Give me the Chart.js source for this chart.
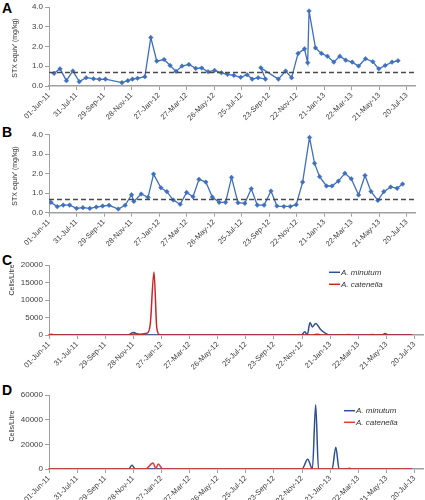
<!DOCTYPE html>
<html><head><meta charset="utf-8">
<script src="https://cdn.jsdelivr.net/npm/chart.js@4.4.0/dist/chart.umd.min.js"></script>
<style>
html,body{margin:0;padding:0;background:#fff;width:425px;height:500px;overflow:hidden;font-family:"Liberation Sans",Arial,sans-serif}
canvas{position:absolute;left:0}
.lt{position:absolute;font-weight:bold;font-size:14px;line-height:14px;color:#000}
.yt{position:absolute;font-size:7px;line-height:8px;color:#333;white-space:nowrap;transform:translate(-50%,-50%) rotate(-90deg)}
</style></head><body>
<div class="lt" style="left:2px;top:1px">A</div>
<div class="lt" style="left:2px;top:125px">B</div>
<div class="lt" style="left:2px;top:253px">C</div>
<div class="lt" style="left:2px;top:383px">D</div>
<canvas id="cA" width="425" height="122" style="top:0px"></canvas>
<canvas id="cB" width="425" height="125" style="top:122px"></canvas>
<canvas id="cC" width="425" height="123" style="top:247px"></canvas>
<canvas id="cD" width="425" height="130" style="top:370px"></canvas>
<div class="yt" style="left:15px;top:48px">STX equiv' (mg/kg)</div>
<div class="yt" style="left:15px;top:176px">STX equiv' (mg/kg)</div>
<div class="yt" style="left:12px;top:280px">Cells/Litre</div>
<div class="yt" style="left:12px;top:426px">Cells/Litre</div>
<script>
// ---- tick labels (x axis: days since 01-Jun-11) ----
const tickDays = [0,60,120,180,240,300,360,420,480,540,600,660,720,780];
const tickLabels = ['01-Jun-11','31-Jul-11','29-Sep-11','28-Nov-11','27-Jan-12','27-Mar-12','26-May-12','25-Jul-12','23-Sep-12','22-Nov-12','21-Jan-13','22-Mar-13','21-May-13','20-Jul-13'];
const limitSTX = 0.68;

// ---- Panel A: STX equiv (mg/kg) ----
const aDays = [11,24,38,52,66,81,97,110,123,159,172,182,193,209,222,235,251,264,277,290,305,320,333,347,361,376,389,403,418,432,443,456,472,462,500,516,529,543,557,564,567,581,594,607,621,634,647,661,675,690,706,719,733,748,761];
const aVals = [0.64,0.87,0.27,0.76,0.22,0.42,0.37,0.34,0.35,0.17,0.27,0.35,0.39,0.47,2.45,1.26,1.34,1.04,0.74,1.01,1.09,0.89,0.91,0.72,0.79,0.67,0.59,0.54,0.44,0.57,0.35,0.42,0.35,0.92,0.35,0.76,0.42,1.65,1.88,1.18,3.80,1.93,1.65,1.51,1.21,1.51,1.31,1.21,1.01,1.38,1.23,0.87,1.04,1.21,1.28];

// ---- Panel B: STX equiv (mg/kg) ----
const bDays = [4,18,31,45,60,74,89,103,117,131,151,166,180,185,201,216,228,244,257,271,286,300,314,327,342,356,371,385,398,412,427,441,454,469,484,497,512,526,539,553,568,579,590,605,617,631,645,659,675,689,702,717,730,745,759,771];
const bVals = [0.53,0.31,0.39,0.39,0.22,0.26,0.22,0.29,0.34,0.38,0.19,0.38,0.92,0.58,0.96,0.79,1.98,1.28,1.08,0.65,0.43,1.04,0.82,1.71,1.57,0.80,0.53,0.53,1.81,0.51,0.48,1.23,0.39,0.39,1.11,0.34,0.32,0.32,0.41,1.57,3.86,2.53,1.85,1.37,1.37,1.62,2.02,1.74,0.91,1.91,1.09,0.63,1.08,1.32,1.25,1.47];

// ---- Panel C: cells per litre ----
const cMinDays = [0,168,180,192,205,538,546,551,557,562,569,580,591,600,775];
const cMinVals = [0,0,700,100,0,0,900,0,3600,2300,3300,1500,400,0,0];
const cCatDays = [0,5,12,175,182,195,209,216,224,230,236,242,565,572,580,632,639,646,683,690,697,710,717,725,775];
const cCatVals = [0,200,0,0,300,250,500,3000,18000,2000,100,0,0,250,0,0,150,0,0,150,0,0,400,0,0];

// ---- Panel D: cells per litre ----
const dMinDays = [0,170,177,184,540,552,562,569,575,604,612,619,634,641,648,775];
const dMinVals = [0,0,3000,0,0,8000,0,52000,0,0,17700,0,0,600,0,0];
const dCatDays = [0,206,222,228,233,243,298,305,312,775];
const dCatVals = [0,0,4800,300,4000,0,0,300,0,0];

const seriesNames = ['A. minutum','A. catenella'];

const F = '"Liberation Sans", Arial, sans-serif';
const pts = (xs, ys) => xs.map((x, i) => ({x, y: ys[i]}));

const inlineLegend = {
  id: 'inlineLegend',
  afterDraw(chart, args, opts) {
    if (!opts || !opts.show) return;
    const ctx = chart.ctx;
    ctx.save();
    chart.data.datasets.forEach(ds => {
      if (ds.legendRow === undefined) return;
      const y = opts.y + ds.legendRow * opts.dy;
      ctx.strokeStyle = ds.borderColor;
      ctx.lineWidth = 1.5;
      ctx.beginPath();
      ctx.moveTo(opts.x, y);
      ctx.lineTo(opts.x + opts.len, y);
      ctx.stroke();
      ctx.fillStyle = '#333';
      ctx.font = 'italic 8px ' + F;
      ctx.textBaseline = 'middle';
      ctx.textAlign = 'left';
      ctx.fillText(ds.label, opts.x + opts.len + 1, y);
    });
    ctx.restore();
  }
};

function xScale(xh) {
  return {
    type: 'linear', min: 0, max: 798,
    afterBuildTicks: s => { s.ticks = tickDays.map(v => ({value: v})); },
    ticks: { autoSkip: false, maxRotation: 45, minRotation: 45, padding: 1,
      font: {size: 7.5, family: F}, color: '#404040',
      callback: (v, i) => tickLabels[i] },
    grid: { drawOnChartArea: false, drawTicks: true, tickLength: 4, color: '#a0a0a0' },
    border: { color: '#a0a0a0', width: 1.5 },
    afterFit: s => { s.height = xh; }
  };
}
function yScale(max, step, dec) {
  return {
    min: 0, max: max,
    ticks: { stepSize: step, font: {size: 8, family: F}, color: '#404040', padding: 2,
      callback: v => dec ? v.toFixed(1) : String(v) },
    grid: { drawOnChartArea: false, drawTicks: true, tickLength: 4, color: '#a0a0a0' },
    border: { color: '#a0a0a0', width: 1 },
    afterFit: s => { s.width = 49; }
  };
}
function stxChart(id, days, vals, top, xh) {
  return new Chart(document.getElementById(id), {
    type: 'scatter',
    data: { datasets: [
      { label: 'limit', data: [{x: 0, y: limitSTX}, {x: 798, y: limitSTX}], showLine: true,
        borderColor: '#4a4a4a', borderWidth: 1.6, borderDash: [5, 3], pointRadius: 0, order: 0 },
      { label: 'STX', data: pts(days, vals), showLine: true, borderColor: '#3f6fbf', borderWidth: 1.3,
        pointStyle: 'rectRot', pointRadius: 2.3, pointBackgroundColor: '#3f6fbf', pointBorderColor: '#3f6fbf',
        pointBorderWidth: 0.5, order: 1 }
    ]},
    options: {
      responsive: false, animation: false, events: [],
      layout: { padding: { top: top, right: 10, left: 0, bottom: 0 } },
      plugins: { legend: {display: false}, tooltip: {enabled: false} },
      scales: { x: xScale(xh), y: yScale(4, 1, true) }
    }
  });
}
function cellChart(id, minD, minV, catD, catV, top, xh, ymax, step, red, leg) {
  return new Chart(document.getElementById(id), {
    type: 'scatter',
    data: { datasets: [
      { label: seriesNames[1], legendRow: 1, data: pts(catD, catV), showLine: true, borderColor: red,
        borderWidth: 1.5, pointRadius: 0, tension: 0.4, cubicInterpolationMode: 'monotone', order: 0 },
      { label: seriesNames[0], legendRow: 0, data: pts(minD, minV), showLine: true, borderColor: '#2f5090',
        borderWidth: 1.5, pointRadius: 0, tension: 0.4, cubicInterpolationMode: 'monotone', order: 1 }
    ]},
    options: {
      responsive: false, animation: false, events: [],
      layout: { padding: { top: top, right: 2, left: 0, bottom: 0 } },
      plugins: { legend: {display: false}, tooltip: {enabled: false}, inlineLegend: leg },
      scales: { x: xScale(xh), y: yScale(ymax, step, false) }
    },
    plugins: [inlineLegend]
  });
}
stxChart('cA', aDays, aVals, 7, 36);
stxChart('cB', bDays, bVals, 12.7, 34.3);
cellChart('cC', cMinDays, cMinVals, cCatDays, cCatVals, 18, 35, 20000, 5000, '#c62828',
  {show: true, x: 329, y: 25.3, dy: 12, len: 11});
cellChart('cD', dMinDays, dMinVals, dCatDays, dCatVals, 25, 31, 60000, 20000, '#e53935',
  {show: true, x: 344, y: 40.7, dy: 11.6, len: 11});
</script>
</body></html>
